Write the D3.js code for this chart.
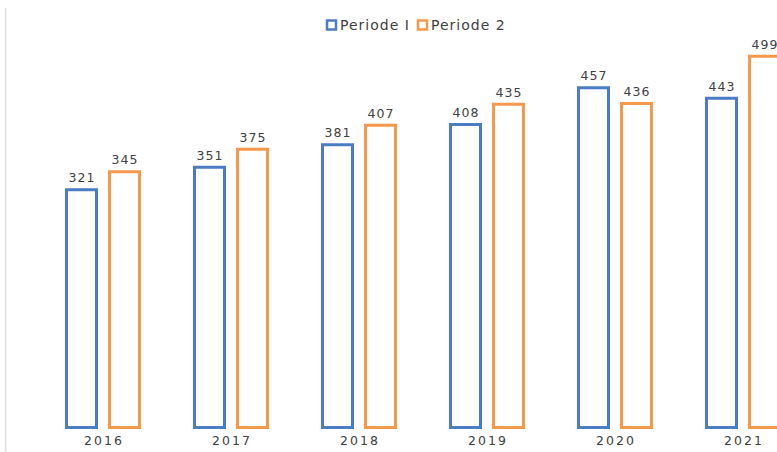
<!DOCTYPE html>
<html>
<head>
<meta charset="utf-8">
<script src="https://cdn.jsdelivr.net/npm/d3@7"></script>
<style>
  html, body { margin: 0; padding: 0; background: #fff; overflow: hidden; }
  text { font-family: "DejaVu Sans", sans-serif; fill: #404040; }
</style>
</head>
<body>
<svg id="chart" width="777" height="452"></svg>
<script>
const years = ["2016", "2017", "2018", "2019", "2020", "2021"];
const seriesNames = ["Periode I", "Periode 2"];
const periode1 = [321, 351, 381, 408, 457, 443];
const periode2 = [345, 375, 407, 435, 436, 499];
const colors = ["#4a7cc3", "#f6984b"];

const svg = d3.select("#chart");
const W = 777, H = 452;
const strokeW = 3;

// frame line on the left edge
svg.append("line")
  .attr("x1", 5.5).attr("x2", 5.5).attr("y1", 8).attr("y2", H)
  .attr("stroke", "#dcdcdc").attr("stroke-width", 1.5);

const x = d3.scaleBand().domain(years).range([39, 39 + 128 * years.length]).padding(0);
const inner = d3.scaleBand().domain(seriesNames).range([-38, 38]).paddingInner(10 / 43).paddingOuter(0);
const y = d3.scaleLinear().domain([0, 500]).range([429, 54]);

const rows = years.map((yr, i) => ({ year: yr, values: [periode1[i], periode2[i]] }));

const groups = svg.selectAll("g.year").data(rows).join("g")
  .attr("class", "year")
  .attr("transform", d => `translate(${x(d.year) + x.bandwidth() / 2},0)`);

groups.selectAll("rect").data(d => d.values.map((v, k) => ({ v, k }))).join("rect")
  .attr("x", d => inner(seriesNames[d.k]) + strokeW / 2)
  .attr("width", inner.bandwidth() - strokeW)
  .attr("y", d => y(d.v) + strokeW / 2)
  .attr("height", d => y(0) - y(d.v) - strokeW)
  .attr("fill", "#fff")
  .attr("stroke", d => colors[d.k])
  .attr("stroke-width", strokeW);

groups.selectAll("text.val").data(d => d.values.map((v, k) => ({ v, k }))).join("text")
  .attr("class", "val")
  .attr("x", d => inner(seriesNames[d.k]) + inner.bandwidth() / 2 + 0.5)
  .attr("y", d => y(d.v) - 6)
  .attr("text-anchor", "middle")
  .attr("font-size", 12.5)
  .attr("letter-spacing", 1)
  .text(d => d.v);

// category axis labels
const xAxis = d3.axisBottom(x).tickSize(0).tickPadding(0);
const ax = svg.append("g").attr("transform", "translate(0,436)").call(xAxis);
ax.select(".domain").remove();
ax.selectAll("text").attr("font-size", 12.5).attr("dy", "0.71em").attr("dx", 1)
  .attr("letter-spacing", 2)
  .style("font-family", "DejaVu Sans, sans-serif").attr("fill", "#404040");

// legend
const legend = svg.append("g").attr("transform", "translate(326,25)");
const legX = [0, 91];
seriesNames.forEach((name, k) => {
  const g = legend.append("g").attr("transform", `translate(${legX[k]},0)`);
  g.append("rect").attr("x", 1).attr("y", -4.5).attr("width", 9).attr("height", 9)
    .attr("fill", "#fff").attr("stroke", colors[k]).attr("stroke-width", 2.5);
  g.append("text").attr("x", 14).attr("y", 0).attr("dy", "0.35em")
    .attr("font-size", 14).attr("letter-spacing", 1).text(name);
});
</script>
</body>
</html>
